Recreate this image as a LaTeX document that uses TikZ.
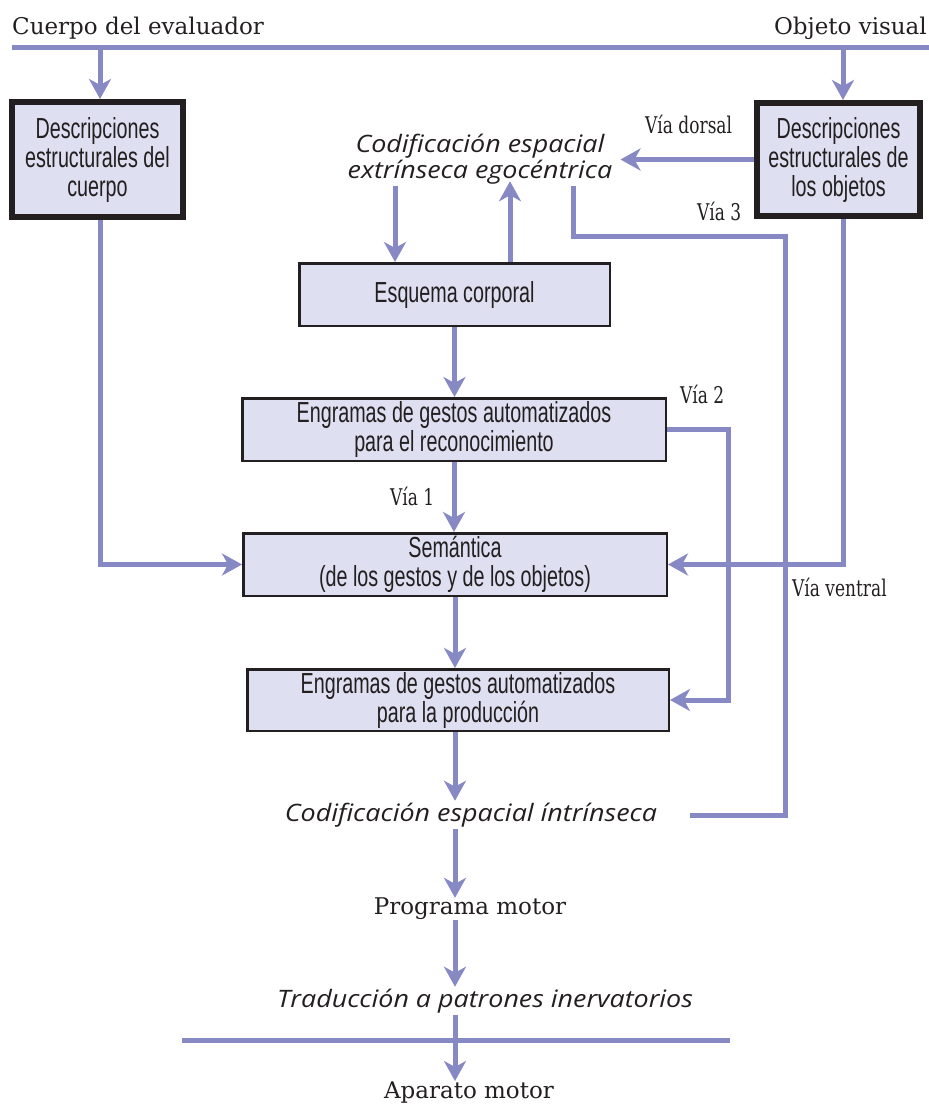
\documentclass[tikz,border=0pt]{standalone}
\usepackage{fontspec}
\setmainfont{DejaVu Serif}
\newfontfamily\boxfont[FakeStretch=0.68]{Liberation Sans}
\newfontfamily\slantfont[FakeStretch=1.12]{Open Sans}
\newfontfamily\viafont[FakeStretch=0.74]{DejaVu Serif}
\usetikzlibrary{arrows.meta,calc}
\definecolor{flow}{RGB}{135,137,196}
\definecolor{boxfill}{RGB}{222,223,240}
\definecolor{ink}{RGB}{35,31,32}

\begin{document}
\begin{tikzpicture}[x=1pt,y=-1pt,
  flowline/.style={draw=flow,line width=5pt},
  arr/.style={flowline,-{Stealth[length=20pt,width=22pt,inset=6pt]}},
  stage/.style={draw=ink,fill=boxfill,line width=2.5pt,outer sep=1.25pt,inner sep=0pt,
    align=center,text=ink,font=\boxfont\fontsize{29}{29}\selectfont},
  source/.style={stage,line width=6pt,outer sep=3pt},
  plain/.style={text=ink,inner sep=0pt,font=\fontsize{23}{25}\selectfont},
  slanted/.style={text=ink,align=center,inner xsep=8pt,inner ysep=2pt,
    font=\slantfont\itshape\fontsize{24}{26}\selectfont},
  via/.style={text=ink,inner sep=0pt,anchor=base west,font=\viafont\fontsize{23}{25}\selectfont}
]
\useasboundingbox (0,0) rectangle (929,1106);

% inputs along the top rail
\node[plain,anchor=base west] (cuerpo) at (12,34) {Cuerpo del evaluador};
\node[plain,anchor=base east] (objeto) at (927,34) {Objeto visual};
\coordinate (tl) at (12,47);
\coordinate (tr) at (929,47);
\draw[flowline] (tl) -- (tr);

% structural descriptions
\node[source,minimum width=171pt,minimum height=115pt] (body) at (97.5,159.5)
  {Descripciones\\estructurales del\\cuerpo};
\node[source,minimum width=163pt,minimum height=113pt] (objs) at (838.5,159.5)
  {Descripciones\\estructurales de\\los objetos};

% processing stages
\node[slanted] (ext) at (480,159) {Codificación espacial\\extrínseca egocéntrica};
\node[stage,minimum width=310.5pt,minimum height=62.5pt] (esq) at (454.5,294.5) {Esquema corporal};
\node[stage,minimum width=423.5pt,minimum height=62.5pt] (reco) at (454,429.5)
  {Engramas de gestos automatizados\\para el reconocimiento};
\node[stage,minimum width=423.5pt,minimum height=62.5pt] (sem) at (455,564.5)
  {Semántica\\(de los gestos y de los objetos)};
\node[stage,minimum width=421.5pt,minimum height=61.5pt] (prod) at (458,700)
  {Engramas de gestos automatizados\\para la producción};
\node[slanted] (intr) at (471,815) {Codificación espacial íntrínseca};
\node[plain] (prog) at (470,909) {Programa motor};
\node[slanted] (trad) at (485,1001) {Traducción a patrones inervatorios};
\node[plain] (apar) at (469,1092) {Aparato motor};

% pathway labels
\node[via] (vdorsal) at (645,133) {Vía dorsal};
\node[via] (vtres) at (697,220) {Vía 3};
\node[via] (vdos) at (680,403) {Vía 2};
\node[via] (vuno) at (390,505) {Vía 1};
\node[via] (vventral) at (792,596) {Vía ventral};

% column positions
\coordinate (egoin) at (395,0);
\coordinate (egoout) at (510,0);
\coordinate (v3a) at (573,0);
\coordinate (v3b) at (785,236);
\coordinate (v2x) at (728,0);
\coordinate (bl) at (182,1040);
\coordinate (br) at (730,1040);

% connectors
\draw[arr] ([xshift=2.5pt]body.north |- tl) -- ([xshift=2.5pt]body.north);
\draw[arr] ([xshift=4.5pt]objs.north |- tr) -- ([xshift=4.5pt]objs.north);
\draw[arr] (objs.west) -- (objs.west -| ext.east);
\draw[arr] (ext.south -| egoin) -- (esq.north -| egoin);
\draw[arr] (esq.north -| egoout) -- ($(ext.south -| egoout)+(0,-5)$);
\draw[flowline] (ext.south -| v3a) |- (v3b) |- ([xshift=25pt]intr.east);
\draw[arr] (esq.south) -- (reco.north -| esq.south);
\draw[arr] (reco.south) -- (sem.north -| reco.south);
\draw[arr] (reco.east) -| (v2x |- prod.east) -- (prod.east);
\draw[arr] ([xshift=2.5pt]body.south) |- (sem.west);
\draw[arr] ([xshift=4.5pt]objs.south) |- (sem.east);
\draw[arr] (sem.south) -- (prod.north -| sem.south);
\draw[arr] (prod.south -| sem.south) -- (intr.north -| sem.south);
\draw[arr] (intr.south -| sem.south) -- (prog.north -| sem.south);
\draw[arr] (prog.south -| sem.south) -- (trad.north -| sem.south);
\draw[flowline] (bl) -- (br);
\draw[arr] (trad.south -| sem.south) -- (apar.north -| sem.south);
\end{tikzpicture}
\end{document}
